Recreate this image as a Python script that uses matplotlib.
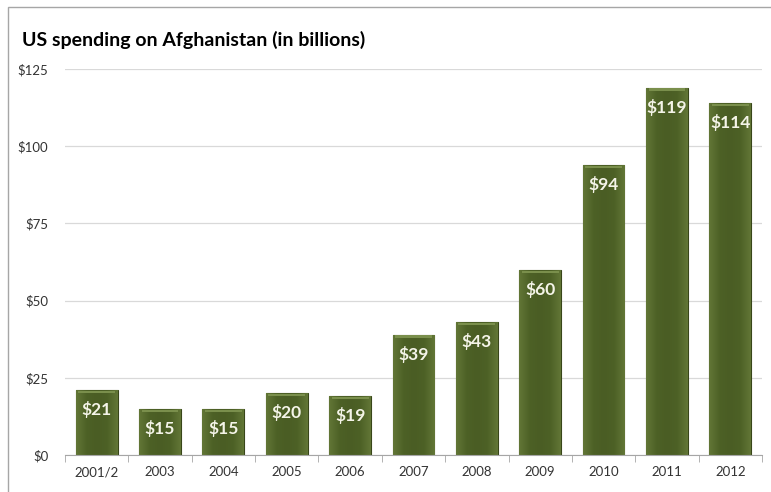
import numpy as np
import matplotlib
matplotlib.use("Agg")
import matplotlib.pyplot as plt
from matplotlib.colors import LinearSegmentedColormap
from matplotlib.patches import Rectangle

plt.rcParams["font.family"] = ["Lato", "DejaVu Sans"]

years = ["2001/2", "2003", "2004", "2005", "2006", "2007", "2008", "2009", "2010", "2011", "2012"]
spending = [21, 15, 15, 20, 19, 39, 43, 60, 94, 119, 114]
y_ticks = [0, 25, 50, 75, 100, 125]

BAR = "#4f6228"
EDGE = "#384619"
LABEL = "#f4f4e8"
GRID = "#d9d9d9"
TEXT = "#333333"

fig = plt.figure(figsize=(7.71, 4.92), dpi=100)
fig.patches.append(Rectangle((0.011, -0.01), 1.05, 0.996, transform=fig.transFigure,
                             fill=False, ec="#a6a6a6", lw=1.0))
ax = fig.add_axes([0.0843, 0.0752, 0.904, 0.7846])

x = np.arange(len(years))
bars = ax.bar(x, spending, width=0.66, color=BAR, edgecolor=EDGE, lw=0.8, zorder=2)

# bevel shading: lighter at the sides, darker through the middle
shade = LinearSegmentedColormap.from_list("shade", ["#627636", "#4d6126", "#4a5d24", "#4d6126", "#627636"])
grad = np.linspace(0, 1, 64).reshape(1, -1)
for b in bars:
    bx, bw, bh = b.get_x(), b.get_width(), b.get_height()
    im = ax.imshow(grad, cmap=shade, aspect="auto", extent=[bx, bx + bw, 0, bh], zorder=2.5)
    im.set_clip_path(b)
    # soft highlight along the top edge
    ax.add_patch(Rectangle((bx + 0.04, bh - 1.0), bw - 0.08, 0.7, color="#7a8f4c", lw=0, zorder=2.6))

for xi, v in zip(x, spending):
    ax.annotate(f"${v}", (xi, v), xytext=(0, -8), textcoords="offset points",
                ha="center", va="top", color=LABEL, fontsize=12.5, fontweight="bold", zorder=3)

ax.set_xlim(-0.5, len(years) - 0.5)
ax.set_ylim(0, 125)
ax.set_yticks(y_ticks)
ax.set_yticklabels([f"${t}" for t in y_ticks], fontsize=9.5, color=TEXT)
ax.yaxis.grid(True, color=GRID, lw=0.9, zorder=0)
ax.tick_params(axis="y", length=0, pad=12)

ax.set_xticks(x)
ax.set_xticklabels(years, fontsize=9.5, color=TEXT)
ax.set_xticks(np.arange(len(years) + 1) - 0.5, minor=True)
ax.tick_params(axis="x", which="major", length=0, pad=8)
ax.tick_params(axis="x", which="minor", length=5, color="#a6a6a6", direction="out")

for s in ["top", "right", "left"]:
    ax.spines[s].set_visible(False)
ax.spines["bottom"].set_color("#a6a6a6")
ax.set_axisbelow(True)

fig.text(0.029, 0.918, "US spending on Afghanistan (in billions)", fontsize=14,
         fontweight="bold", color="black", va="center")

fig.savefig("out.png", dpi=100)
